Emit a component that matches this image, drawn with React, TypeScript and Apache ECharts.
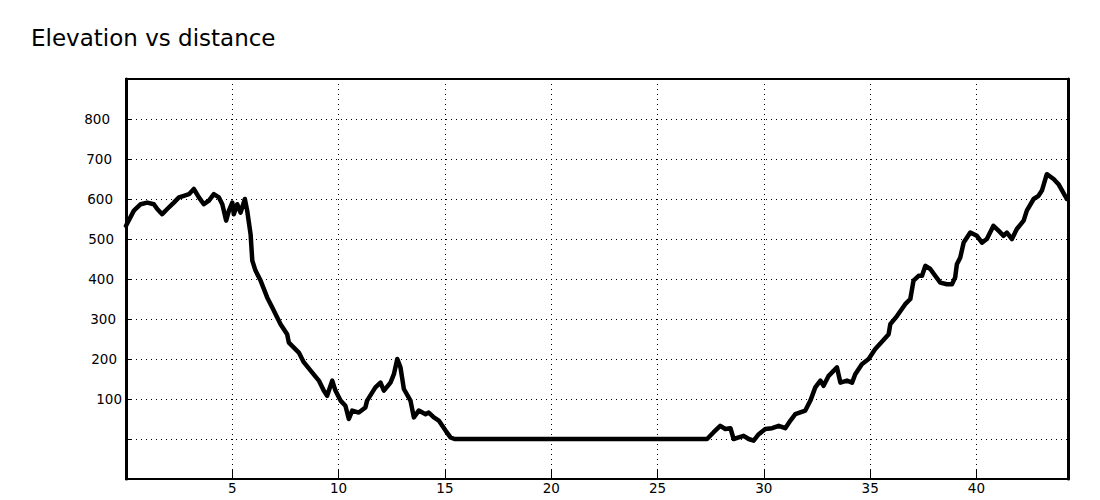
import React, { useEffect, useRef } from "react";
import * as echarts from "echarts";

const TITLE = "Elevation vs distance";

const distanceKm: number[] = [
  0, 0.37, 0.69, 1.0, 1.31, 1.47, 1.7, 1.94, 2.25, 2.49, 2.72, 2.96, 3.19, 3.43, 3.66, 3.9,
  4.13, 4.37, 4.53, 4.71, 4.84, 5.0, 5.07, 5.23, 5.39, 5.59, 5.7, 5.86, 5.94, 6.09, 6.33,
  6.64, 6.88, 7.27, 7.58, 7.66, 8.13, 8.36, 8.76, 9.07, 9.3, 9.46, 9.7, 9.85, 10.09, 10.32,
  10.48, 10.64, 10.95, 11.26, 11.34, 11.73, 11.97, 12.13, 12.44, 12.6, 12.76, 12.91, 13.07,
  13.38, 13.54, 13.77, 14.09, 14.24, 14.48, 14.71, 15.03, 15.26, 15.45, 27.33, 27.64, 27.95,
  28.19, 28.43, 28.58, 28.82, 29.05, 29.29, 29.52, 29.76, 30.07, 30.39, 30.7, 31.01, 31.25,
  31.48, 31.95, 32.19, 32.42, 32.66, 32.81, 33.05, 33.44, 33.6, 33.91, 34.15, 34.3, 34.61,
  34.93, 35.24, 35.5, 35.87, 35.95, 36.27, 36.65, 36.89, 37.04, 37.28, 37.44, 37.6, 37.83,
  38.06, 38.3, 38.61, 38.85, 39.0, 39.08, 39.24, 39.4, 39.71, 40.02, 40.26, 40.49, 40.8,
  41.04, 41.27, 41.43, 41.67, 41.9, 42.22, 42.37, 42.69, 42.92, 43.08, 43.31, 43.63, 43.86,
  44.17, 44.25,
];

const elevationM: number[] = [
  533, 571, 587, 591, 587, 575, 562, 575, 591, 604, 608, 612, 625, 604, 587, 596,
  612, 604, 587, 546, 571, 591, 562, 587, 566, 600, 571, 512, 446, 421, 396,
  354, 329, 287, 262, 241, 216, 192, 166, 146, 121, 108, 146, 121, 96, 83,
  50, 71, 66, 79, 96, 129, 141, 121, 141, 162, 200, 179, 125,
  96, 54, 71, 62, 66, 54, 46, 21, 4, 0, 0, 17, 33,
  25, 27, 0, 4, 8, 0, -4, 12, 25, 27, 33, 27, 46,
  62, 71, 96, 129, 146, 133, 158, 179, 141, 146, 141, 162, 187,
  200, 225, 240, 262, 287, 308, 337, 350, 396, 408, 408, 433, 425,
  408, 391, 387, 387, 404, 437, 454, 491, 516, 508, 491, 500, 533,
  521, 508, 516, 500, 525, 546, 571, 600, 608, 621, 662, 650, 637,
  608, 600,
];

const X_MIN = 0;
const X_MAX = 44.33;
const X_STEP = 5;
const Y_MIN = -100;
const Y_MAX = 900;
const Y_STEP = 100;

const yLabelValues: number[] = [100, 200, 300, 400, 500, 600, 700, 800];
// right padding (px) so each y label sits where the original renderer put it
const yLabelPadRight: number[] = [0, 5, 6, 8, 8, 9, 10, 12];

const FONT = "DejaVu Sans";
const LABEL_SIZE = 13.5;

export default function App() {
  const ref = useRef<HTMLDivElement>(null);

  useEffect(() => {
    if (!ref.current) return;
    const chart = echarts.init(ref.current, null, { renderer: "svg" });
    const data = distanceKm.map((d, i) => [d, elevationM[i]]);
    const dotted = { color: "#000", width: 1, type: [1, 4] as number[] };

    const rich: Record<string, any> = {};
    yLabelValues.forEach((v, i) => {
      rich["y" + v] = {
        fontFamily: FONT,
        fontSize: LABEL_SIZE,
        color: "#000",
        padding: [0, yLabelPadRight[i], 0, 0],
      };
    });

    chart.setOption({
      animation: false,
      backgroundColor: "#fff",
      title: {
        text: TITLE,
        left: 31,
        top: 26,
        padding: 0,
        textStyle: { fontFamily: FONT, fontSize: 23, fontWeight: "normal", color: "#000" },
      },
      grid: {
        left: 126,
        right: 31.5,
        top: 79,
        height: 400,
        show: true,
        borderColor: "#000",
        borderWidth: 2,
        backgroundColor: "#fff",
      },
      xAxis: [
        {
          type: "value",
          min: X_MIN,
          max: X_MAX,
          interval: X_STEP,
          axisLine: { show: true, onZero: false, lineStyle: { color: "#000", width: 2 } },
          axisTick: { show: true, inside: true, length: 9, lineStyle: { color: "#000", width: 1 } },
          axisLabel: {
            margin: 2,
            color: "#000",
            fontFamily: FONT,
            fontSize: LABEL_SIZE,
            showMaxLabel: false,
            formatter: (v: number) => (v > 0 && v % X_STEP === 0 ? String(v) : ""),
          },
          splitLine: { show: true, lineStyle: dotted },
        },
      ],
      yAxis: [
        {
          type: "value",
          min: Y_MIN,
          max: Y_MAX,
          interval: Y_STEP,
          axisLine: { show: true, onZero: false, lineStyle: { color: "#000", width: 3 } },
          axisTick: { show: true, inside: true, length: 5, lineStyle: { color: "#000", width: 1 } },
          axisLabel: {
            margin: 4,
            color: "#000",
            fontFamily: FONT,
            fontSize: LABEL_SIZE,
            rich,
            formatter: (v: number) =>
              yLabelValues.indexOf(v) >= 0 ? "{y" + v + "|" + v + "}" : "",
          },
          splitLine: { show: true, lineStyle: dotted },
        },
        {
          type: "value",
          position: "right",
          min: Y_MIN,
          max: Y_MAX,
          interval: Y_STEP,
          axisLine: { show: true, onZero: false, lineStyle: { color: "#000", width: 3 } },
          axisTick: { show: false },
          axisLabel: { show: false },
          splitLine: { show: false },
        },
      ],
      series: [
        {
          type: "line",
          data,
          xAxisIndex: 0,
          yAxisIndex: 0,
          showSymbol: false,
          symbol: "none",
          lineStyle: { color: "#000", width: 4.5, join: "round", cap: "round" },
          clip: true,
        },
      ],
    });

    return () => chart.dispose();
  }, []);

  return (
    <div
      ref={ref}
      style={{ position: "fixed", left: 0, top: 0, width: 1100, height: 500, background: "#fff" }}
    />
  );
}
